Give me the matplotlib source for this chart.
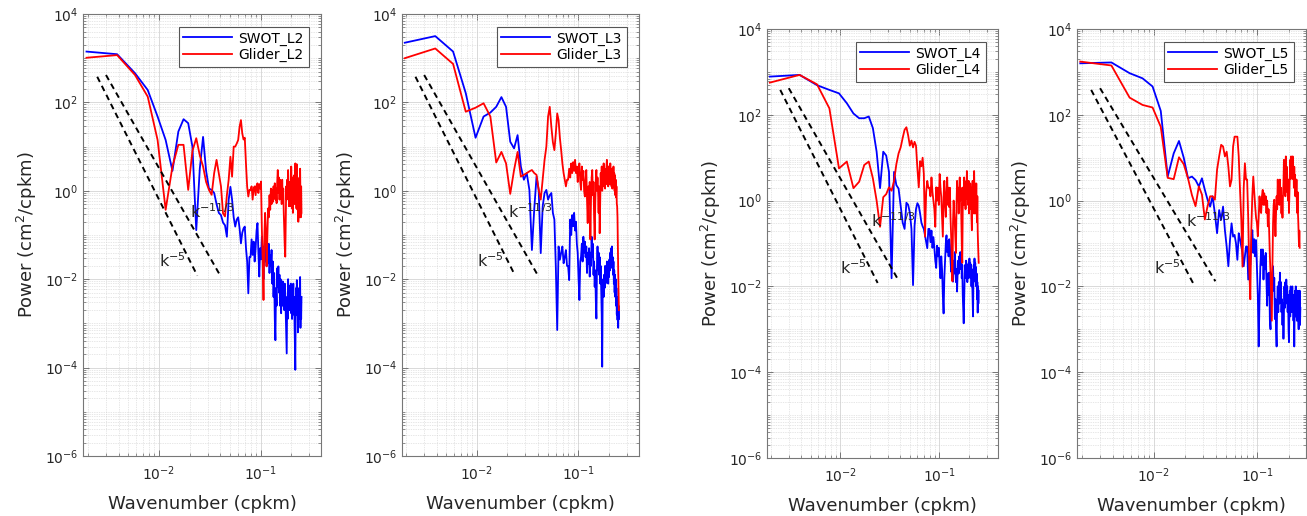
import numpy as np
import matplotlib
matplotlib.use("Agg")
import matplotlib.pyplot as plt
from matplotlib.ticker import LogLocator, NullFormatter, FixedLocator, LogFormatterSciNotation

# wavenumber spacing (cpkm); spectra sampled at n*dk, n = 1..N
dk = 0.25 / 129

# log10 of power (cm^2/cpkm)
swot_L2 = [3.15, 3.09, 2.66, 2.28, 1.68, 1.15, 0.45, 1.34, 1.62, 1.53,
           1.00, -0.89, 0.50, 1.22, 0.45, 0.05, 0.02, -0.05, -0.30, -0.50,
           -0.55, -0.72, -0.78, -1.04, -0.20, 0.09, -0.20, -0.60, -0.81, -0.65,
           -0.60, -0.85, -1.19, -0.95, -0.85, -0.81, -1.30, -1.60, -2.32, -1.50,
           -1.50, -1.10, -1.45, -1.15, -1.60, -1.30, -0.90, -0.73, -1.40, -1.94,
           -1.30, -1.55, -1.04, -1.45, -2.00, -1.25, -1.60, -1.19, -1.70, -1.35,
           -1.64, -1.20, -1.86, -1.45, -1.70, -1.34, -2.10, -1.60, -2.40, -1.86,
           -2.90, -3.38, -2.20, -2.60, -1.75, -2.17, -1.71, -2.30, -1.90, -2.60,
           -2.00, -2.77, -2.20, -2.60, -2.05, -2.50, -2.15, -2.70, -2.10, -2.32,
           -2.80, -3.20, -3.68, -2.40, -2.90, -2.00, -2.50, -2.15, -2.70, -2.20,
           -2.60, -2.10, -2.77, -2.30, -2.90, -2.22, -2.60, -2.10, -2.80, -2.40,
           -3.00, -3.60, -4.05, -2.60, -2.20, -2.80, -2.02, -2.60, -2.30, -3.20,
           -2.50, -2.90, -2.20, -2.70, -2.30, -1.95, -3.10, -2.40, -2.90, -2.40]
glider_L2 = [3.01, 3.07, 2.62, 2.13, 1.15, -0.43, 0.55, 1.04, 1.04, 0.02,
             0.90, 1.19, 0.80, 0.55, 0.20, 0.02, -0.09, 0.40, 0.70, 0.40,
             0.10, -0.51, -0.58, -0.10, 0.25, 0.77, 0.32, 1.00, 1.00, 1.07,
             1.15, 1.45, 1.60, 1.30, 1.16, 1.20, 0.60, 0.09, -0.13, 0.02,
             0.02, 0.10, -0.20, 0.05, 0.10, -0.10, 0.12, 0.17, -0.05, 0.15,
             0.05, 0.21, -0.88, -1.60, -2.47, -1.10, -0.50, -0.90, -1.71, -1.00,
             -0.40, -0.60, -0.10, -0.43, 0.05, -0.30, 0.02, -0.25, 0.10, -0.15,
             0.17, -0.20, 0.05, -0.28, 0.20, 0.47, -0.05, 0.30, -0.20, 0.25,
             -0.10, 0.20, -0.30, 0.25, -0.20, 0.05, -0.50, -0.90, -1.26, -1.49,
             -0.60, 0.10, -0.20, 0.25, -0.10, 0.47, 0.10, -0.35, 0.20, -0.30,
             0.10, -0.35, 0.55, 0.10, -0.40, 0.30, -0.50, 0.20, -0.20, 0.35,
             -0.30, 0.40, 0.62, -0.10, 0.30, -0.40, 0.60, 0.05, -0.43, 0.10,
             -0.70, 0.00, -0.40, 0.30, -0.60, 0.50, -0.20, -0.60, 0.10, -0.50]
swot_L3 = [3.35, 3.50, 3.15, 2.21, 1.20, 1.68, 1.77, 1.90, 2.12, 1.90,
           1.11, 0.96, 1.26, 0.55, 0.25, 0.40, 0.02, -1.34, -0.40, 0.32,
           0.02, -1.41, -0.35, -0.05, 0.02, -0.20, -0.10, -0.05, -0.50, -0.65,
           -1.72, -3.15, -1.26, -1.56, -1.40, -1.26, -1.64, -1.50, -1.34, -1.70,
           -1.70, -2.02, -0.65, -1.00, -0.55, -0.80, -0.50, -0.90, -0.70, -1.20,
           -1.41, -2.00, -2.47, -1.60, -1.49, -1.20, -1.60, -1.04, -1.40, -1.15,
           -1.50, -1.26, -1.86, -1.40, -1.65, -1.30, -1.94, -1.40, -1.70, -1.04,
           -1.50, -1.20, -1.90, -1.60, -2.17, -1.80, -2.50, -2.89, -1.70, -1.26,
           -1.80, -1.40, -1.90, -1.50, -2.10, -1.70, -2.32, -2.80, -3.98, -2.30,
           -2.00, -2.40, -1.90, -2.20, -1.70, -2.10, -1.75, -2.05, -1.60, -1.90,
           -1.71, -2.10, -1.60, -1.95, -1.55, -1.80, -1.40, -1.75, -1.30, -1.60,
           -1.26, -1.70, -1.50, -1.90, -1.60, -2.10, -1.80, -2.30, -1.90, -2.40,
           -2.00, -2.60, -2.20, -2.80, -2.40, -2.92, -2.50, -3.10, -2.60, -2.90]
glider_L3 = [3.00, 3.22, 2.87, 1.79, 1.88, 1.98, 1.68, 0.64, 0.88, 0.62,
             -0.07, 0.47, 0.88, 0.32, 0.36, 0.40, 0.44, 0.47, 0.40, 0.36,
             0.02, -0.20, 0.25, 0.70, 1.00, 1.68, 1.90, 1.45, 1.10, 0.92,
             1.30, 1.75, 1.60, 1.20, 0.92, 0.62, 0.40, 0.25, 0.10, 0.25,
             0.25, 0.50, 0.30, 0.62, 0.40, 0.65, 0.45, 0.70, 0.40, 0.55,
             0.20, 0.50, 0.62, 0.20, 0.02, 0.55, 0.25, 0.45, 0.00, -0.13,
             0.25, 0.47, -0.20, -0.73, 0.10, -0.30, 0.20, -1.10, -0.20, 0.30,
             0.47, -0.10, 0.20, -0.60, -1.10, -0.30, 0.25, 0.47, 0.00, 0.30,
             -0.05, -0.50, 0.10, -0.96, -0.20, 0.40, 0.10, 0.55, 0.00, 0.40,
             0.10, 0.62, 0.20, 0.50, 0.05, 0.45, 0.15, 0.55, 0.70, 0.20,
             0.50, 0.10, 0.55, 0.20, 0.45, 0.15, 0.62, 0.25, 0.50, 0.10,
             0.40, 0.05, 0.50, 0.20, 0.55, 0.10, 0.40, 0.00, 0.35, -0.10,
             0.25, -0.15, 0.10, -0.30, -0.35, -0.60, -1.26, -1.80, -2.30, -2.70]
swot_L4 = [2.89, 2.93, 2.69, 2.58, 2.50, 2.27, 2.03, 1.92, 1.92, 1.96,
           1.69, 1.14, 0.29, 1.14, 1.05, 0.67, -1.81, 0.67, 0.36, 0.28,
           -0.12, -0.51, -0.66, -0.05, -0.10, -0.28, -0.66, -1.97, -0.59, -0.20,
           -0.06, -0.12, -0.30, -0.51, -0.60, -0.66, -0.81, -0.95, -1.11, -0.66,
           -0.66, -0.97, -0.70, -1.10, -0.85, -1.11, -1.40, -1.57, -1.05, -1.30,
           -1.10, -1.50, -1.81, -1.30, -1.60, -2.20, -2.63, -1.80, -1.40, -1.00,
           -0.81, -1.20, -0.95, -1.30, -0.90, -1.04, -1.40, -1.66, -1.30, -1.70,
           -1.89, -1.40, -1.70, -1.20, -1.50, -1.90, -1.60, -2.12, -1.70, -1.40,
           -1.70, -1.30, -1.60, -1.20, -1.50, -1.30, -1.81, -1.50, -2.20, -2.50,
           -2.86, -2.30, -1.80, -1.50, -1.80, -1.40, -1.75, -1.50, -1.90, -1.60,
           -1.81, -1.45, -1.80, -1.35, -1.70, -1.45, -1.80, -1.50, -2.00, -1.60,
           -1.90, -2.30, -2.70, -1.97, -1.50, -1.80, -1.35, -1.70, -1.45, -1.90,
           -1.55, -2.00, -1.70, -2.30, -1.90, -2.61, -2.00, -2.40, -2.10]
glider_L4 = [2.75, 2.93, 2.71, 2.15, 0.75, 0.91, 0.29, 0.44, 0.83, 0.91,
             0.52, 0.00, -0.61, 0.08, 0.15, 0.31, 0.23, 0.46, 0.85, 1.10,
             1.24, 1.46, 1.65, 1.71, 1.52, 1.28, 1.40, 1.24, 1.37, 1.28,
             0.75, 0.31, 0.92, 0.80, 1.00, 0.62, -0.84, 0.20, 0.46, 0.30,
             0.30, 0.10, 0.54, 0.20, 0.00, -0.20, -0.61, 0.31, 0.00, 0.30,
             -0.10, 0.62, 0.30, 0.08, -0.40, -0.84, 0.10, 0.46, -0.10, -0.38,
             0.20, 0.54, -0.10, 0.30, -0.15, 0.30, -0.40, -0.84, -1.40, -1.88,
             -0.50, 0.00, -0.30, -0.53, -0.90, -1.22, -0.10, 0.46, 0.00, 0.30,
             -0.30, 0.20, 0.54, 0.00, 0.30, -0.40, -1.00, -1.45, -0.20, 0.31,
             -0.10, 0.54, 0.00, 0.40, -0.20, 0.45, 0.05, 0.69, 0.10, 0.40,
             -0.10, 0.46, -0.30, 0.20, -0.20, 0.40, -0.10, 0.30, -0.40, -0.69,
             0.00, 0.46, -0.20, 0.30, -0.30, 0.69, 0.10, 0.40, -0.30, 0.20,
             -0.10, 0.40, -0.20, -0.50, 0.10, -0.69, -1.00, -1.20, -1.45]
swot_L5 = [3.20, 3.22, 2.97, 2.85, 2.66, 2.09, 0.56, 1.10, 1.39, 1.00,
           0.52, 0.56, 0.48, 0.33, 0.52, 0.25, 0.02, -0.14, 0.10, -0.30,
           -0.76, -0.22, -0.45, -0.14, -0.69, -1.07, -1.53, -0.92, -0.53, -0.84,
           -0.80, -1.00, -1.38, -0.76, -0.90, -1.07, -1.22, -1.53, -1.30, -1.07,
           -1.07, -1.84, -1.30, -1.50, -1.00, -0.69, -1.22, -0.90, -1.30, -0.92,
           -1.53, -2.20, -3.40, -2.30, -1.53, -1.14, -1.50, -1.14, -1.84, -1.30,
           -1.60, -1.22, -1.80, -2.45, -1.70, -2.20, -1.68, -2.80, -3.00, -2.20,
           -1.70, -2.00, -1.53, -2.10, -1.80, -2.76, -2.30, -3.00, -3.40, -2.40,
           -2.00, -2.60, -1.90, -2.40, -1.68, -2.20, -1.90, -2.60, -2.30, -2.90,
           -2.40, -3.22, -2.60, -2.00, -2.50, -1.90, -2.40, -1.84, -2.30, -2.00,
           -2.60, -2.20, -3.00, -3.30, -2.50, -2.10, -2.70, -2.00, -2.50, -2.10,
           -2.60, -2.00, -2.60, -2.20, -2.80, -2.40, -3.40, -2.60, -2.10, -2.70,
           -2.00, -2.50, -2.10, -2.80, -2.20, -2.60, -2.10, -2.70, -3.00, -2.20,
           -2.70, -2.10, -2.90, -2.50]
glider_L5 = [3.24, 3.15, 2.40, 2.23, 2.17, 1.72, 0.53, 0.50, 1.01, 0.85,
             0.52, 0.13, -0.13, 0.33, 0.14, -0.44, -0.13, 0.10, 0.10, 0.02,
             0.72, 1.03, 1.30, 1.26, 1.03, 1.14, 0.79, 0.33, 0.49, 1.26,
             1.49, 1.49, 1.49, 1.03, 0.25, -0.44, -1.54, 0.30, 0.87, 0.49,
             0.49, -0.40, -1.60, -2.30, -0.68, 0.10, 0.56, 0.20, -0.13, -0.40,
             -0.52, -0.83, -0.40, 0.10, -0.20, -0.29, 0.10, 0.25, -0.10, 0.17,
             -0.10, 0.10, -0.29, 0.00, -0.60, -0.20, -0.80, -1.30, -1.70, -2.30,
             -2.80, -1.50, -0.52, -0.10, 0.02, -0.40, -0.83, -0.30, 0.10, -0.20,
             0.49, 0.10, 0.30, -0.10, 0.49, 0.00, 0.30, -0.30, 0.10, -0.40,
             0.10, 0.40, 0.95, 0.40, 0.64, 0.10, 1.03, 0.50, 0.79, 0.20,
             0.41, 0.00, 0.49, -0.29, 0.20, 0.60, 0.95, 0.50, 1.03, 0.60,
             0.90, 0.64, 1.03, 0.50, 0.79, 0.30, 0.79, 0.41, 0.60, 0.10,
             0.49, 0.10, 0.49, -0.10, -0.29, 0.20, -0.29, -0.50, -0.80, -1.06,
             -0.70, -1.10]

# reference slope lines (end points, log10 k and log10 power) and labels
ref_k5_logk = [-2.607, -1.623]
ref_k5_logp = [2.58, -1.92]
ref_k113_logk = [-2.521, -1.407]
ref_k113_logp = [2.62, -1.88]
label_k113 = (-1.695, -0.47)
label_k5 = (-2.0, -1.57)

panels = [
    dict(swot=swot_L2, glider=glider_L2, names=("SWOT_L2", "Glider_L2"),
         box=(83, 321, 14, 456), xlog=(-2.747, -0.407)),
    dict(swot=swot_L3, glider=glider_L3, names=("SWOT_L3", "Glider_L3"),
         box=(402, 639, 14, 456), xlog=(-2.740, -0.400)),
    dict(swot=swot_L4, glider=glider_L4, names=("SWOT_L4", "Glider_L4"),
         box=(767, 998, 29, 458), xlog=(-2.741, -0.407)),
    dict(swot=swot_L5, glider=glider_L5, names=("SWOT_L5", "Glider_L5"),
         box=(1077, 1306, 29, 458), xlog=(-2.744, -0.531)),
]

W, H = 1307, 516
fig = plt.figure(figsize=(W / 100, H / 100), dpi=100)
txtc = "#262626"
plt.rcParams["font.family"] = "DejaVu Sans"

for p in panels:
    x0, x1, y0, y1 = p["box"]
    ax = fig.add_axes([x0 / W, 1 - y1 / H, (x1 - x0) / W, (y1 - y0) / H])
    ks = dk * np.arange(1, len(p["swot"]) + 1)
    kg = dk * np.arange(1, len(p["glider"]) + 1)
    ax.loglog(ks, 10 ** np.array(p["swot"]), color="#0000ff", lw=1.3, label=p["names"][0])
    ax.loglog(kg, 10 ** np.array(p["glider"]), color="#ff0000", lw=1.3, label=p["names"][1])
    ax.loglog(10 ** np.array(ref_k5_logk), 10 ** np.array(ref_k5_logp), color="k",
              lw=1.4, ls=(0, (3, 2.2)))
    ax.loglog(10 ** np.array(ref_k113_logk), 10 ** np.array(ref_k113_logp), color="k",
              lw=1.4, ls=(0, (3, 2.2)))
    ax.text(10 ** label_k113[0], 10 ** label_k113[1], r"k$^{-11/3}$", ha="left", va="center",
            fontsize=11.5, color=txtc)
    ax.text(10 ** label_k5[0], 10 ** label_k5[1], r"k$^{-5}$", ha="left", va="center",
            fontsize=11.5, color=txtc)
    ax.set_xlim(10 ** p["xlog"][0], 10 ** p["xlog"][1])
    ax.set_ylim(1e-6, 1e4)
    ax.xaxis.set_major_locator(FixedLocator([1e-2, 1e-1]))
    ax.yaxis.set_major_locator(FixedLocator([1e-6, 1e-4, 1e-2, 1e0, 1e2, 1e4]))
    ax.xaxis.set_major_formatter(LogFormatterSciNotation())
    ax.yaxis.set_major_formatter(LogFormatterSciNotation())
    ax.xaxis.set_minor_locator(LogLocator(base=10, subs=np.arange(2, 10), numticks=100))
    ax.yaxis.set_minor_locator(LogLocator(base=10, subs=np.arange(1, 10), numticks=100))
    ax.xaxis.set_minor_formatter(NullFormatter())
    ax.yaxis.set_minor_formatter(NullFormatter())
    ax.grid(True, which="major", color="#d9d9d9", lw=0.7, ls="-")
    ax.grid(True, which="minor", color="#cfcfcf", lw=0.5, ls=(0, (1, 1.5)))
    ax.set_axisbelow(True)
    ax.tick_params(which="both", direction="in", top=True, right=True, colors="#666666",
                   labelcolor=txtc, labelsize=10)
    ax.tick_params(which="major", length=4, width=0.6)
    ax.tick_params(which="minor", length=2, width=0.5)
    ax.tick_params(axis="x", pad=6)
    for s in ax.spines.values():
        s.set_color("#777777")
        s.set_linewidth(0.8)
    ax.set_xlabel("Wavenumber (cpkm)", fontsize=13, color=txtc, labelpad=9)
    ax.set_ylabel(r"Power (cm$^2$/cpkm)", fontsize=13, color=txtc, labelpad=4)
    leg = ax.legend(loc="upper right", fontsize=10, handlelength=3.5, handletextpad=0.45,
                    borderpad=0.35, labelspacing=0.15, borderaxespad=0.9, fancybox=False,
                    framealpha=1, edgecolor="#555555")
    leg.get_frame().set_linewidth(0.8)

fig.savefig("out.png", dpi=100)
